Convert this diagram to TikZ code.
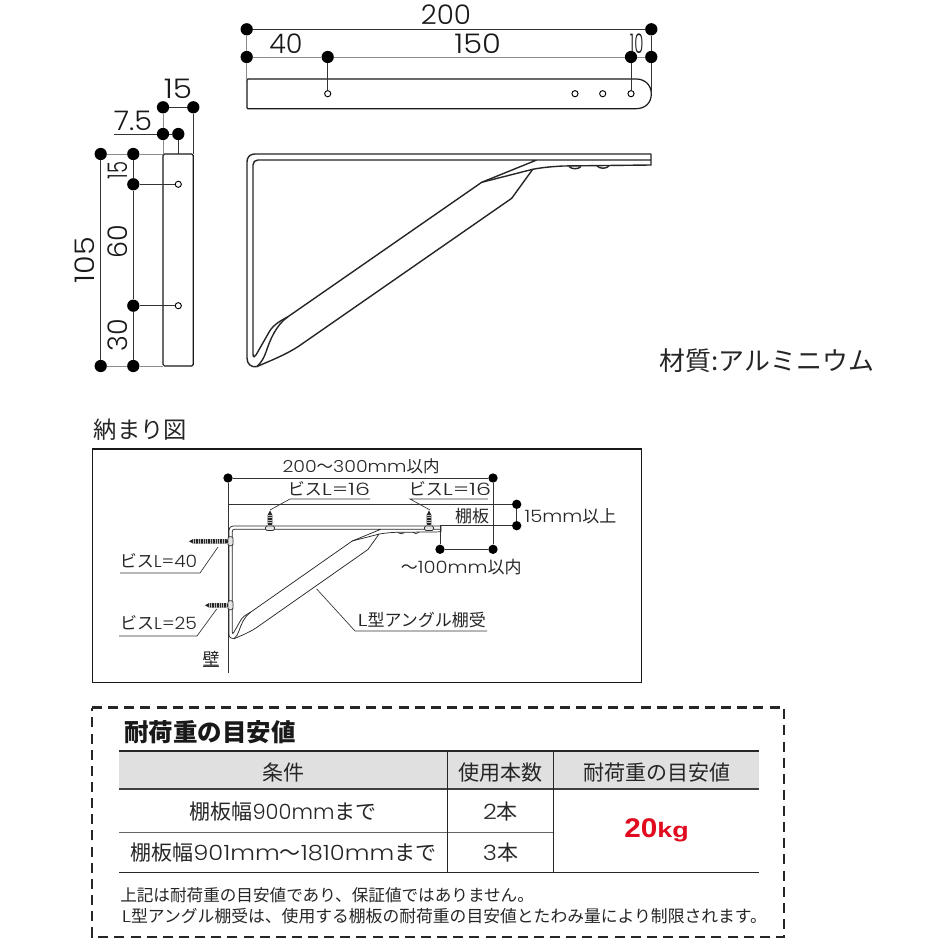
\documentclass[tikz,border=0pt]{standalone}
\usepackage{fontspec}
\newfontfamily\ja{Noto Sans CJK JP}
\newfontfamily\la{Poppins}[UprightFont={* Light}]
\newfontfamily\lb{Liberation Sans}
\newcommand\sz[1]{\fontsize{\fpeval{#1*0.75}}{\fpeval{#1*0.9}}\selectfont}
\newcommand\drawbracket{%
  \draw (651,154) -- (255,154) .. controls (250,154) and (247,157) .. (247,162) -- (247,358) .. controls (247,364) and (251,367.5) .. (256.7,366.7);
  \draw (651,160) -- (258,160) .. controls (255,160) and (253,162) .. (253,165) -- (253,354) .. controls (253,358) and (255,357) .. (256,355) -- (268,334) .. controls (272,326) and (278,322) .. (288,316.7) -- (481.7,182.3) -- (536.7,160);
  \draw (256.7,366.7) .. controls (272,360) and (285,355) .. (298,346.7) -- (511.7,198.3) -- (532.7,169.3);
  \draw (288,316.7) .. controls (276,325) and (270,340) .. (266,352) .. controls (264,358) and (261,363) .. (256.7,366.7);
  \draw (481.7,182.3) -- (532.7,169.3) .. controls (545,167) and (555,166.5) .. (563,166) -- (651,165) -- (651,154);
  \draw (569,166.5) .. controls (572,169.5) and (578,169.5) .. (581,166.5);
  \draw (597,166) .. controls (600,169) and (606,169) .. (609,166);
}
\newcommand\hscrew[2]{% tip x, y
  \fill[black!85] (#1,#2) -- (#1+4,#2-2.2) -- (226,#2-2.2) -- (228,#2-1.5) -- (228,#2+1.5) -- (226,#2+2.2) -- (#1+4,#2+2.2) -- cycle;
  \draw[line width=3.4pt,draw=black!25,dash pattern=on .45pt off 1.35pt] (#1+4,#2) -- (226,#2);
  \draw[line width=.6pt,draw=black!80,fill=black!10,rounded corners=1pt] (228,#2-4.5) rectangle (233,#2+4.5);
}
\newcommand\vscrew[1]{% x
  \fill[black!85] (#1,510.5) -- (#1-2.3,515) -- (#1-2.3,524) -- (#1-1.5,526) -- (#1+1.5,526) -- (#1+2.3,524) -- (#1+2.3,515) -- cycle;
  \draw[line width=3.4pt,draw=black!25,dash pattern=on .45pt off 1.35pt] (#1,515) -- (#1,525);
  \draw[line width=.6pt,draw=black!80,fill=black!10,rounded corners=1pt] (#1-4.5,526) rectangle (#1+4.5,530.5);
}
\tikzset{
  dot/.style={circle,fill=black,inner sep=0pt,minimum size=9.2pt},
  wdot/.style={circle,fill=black,inner sep=0pt,minimum size=7pt},
  hole/.style={circle,draw=black,fill=white,line width=.7pt,inner sep=0pt,minimum size=4.6pt},
  dim/.style={line width=.6pt,draw=black!80},
  dimg/.style={line width=.7pt,draw=black!45},
  body/.style={line width=.9pt,draw=black!90},
  num/.style={inner sep=0pt,font=\la\sz{27},text=black!90},
  lab/.style={inner sep=0pt,font=\ja\sz{17},text=black!85},
  lead/.style={line width=.5pt,draw=black!80},
  tab/.style={inner sep=0pt,font=\ja\sz{21},text=black!85},
  note/.style={inner sep=0pt,anchor=west,text=black!85},
}
\newcommand\lt[2][1.15]{\scalebox{#1}[1]{\la #2}}
\begin{document}
\begin{tikzpicture}[x=.75pt,y=-.75pt]
\useasboundingbox (0,0) rectangle (944,944);
\fill[white] (0,0) rectangle (944,944);

% ---------- top view
\draw[body] (248,79) -- (636,79) .. controls (645,79) and (651.3,85) .. (651.3,94) .. controls (651.3,103) and (645,108.7) .. (636,108.7) -- (248,108.7) .. controls (247.3,108.7) and (247,108.4) .. (247,107.7) -- (247,80) .. controls (247,79.3) and (247.3,79) .. (248,79) -- cycle;
\coordinate (pl) at (246.7,79);
\coordinate (pr) at (651.3,94);
\node[hole] (h1) at (327.7,93.7) {};
\node[hole] (h2) at (575,93.7) {};
\node[hole] (h3) at (602.7,93.7) {};
\node[hole] (h4) at (631,93.7) {};
\node[dot] (a1) at (246.7,29.3) {};
\node[dot] (a2) at (651.3,29.3) {};
\node[dot] (b1) at (246.7,57) {};
\node[dot] (b2) at (327.7,57) {};
\node[dot] (b3) at (631,57) {};
\node[dot] (b4) at (651.3,57) {};
\draw[dim] (a1) -- (a2);
\draw[dimg] (b1) -- (b2);
\draw[dimg] (b2) -- (b3);
\draw[dimg] (b3) -- (b4);
\draw[dimg] (a1) -- (b1);
\draw[dimg] (b1) -- (pl);
\draw[dim] (a2) -- (b4);
\draw[dim] (b4) -- (pr);
\draw[dim] (b2) -- (h1);
\draw[dim] (b3) -- (h4);
\node[num] (t200) at (446,15) {\scalebox{1.03}[1]{200}};
\node[num] (t40) at (286,44) {40};
\node[num] (t150) at (477.7,44) {\scalebox{1.13}[1]{150}};
\node[num] (t10) at (636.7,43.5) {\scalebox{.55}[1]{10}};

% ---------- side view
\draw[body,rounded corners=1.2pt] (163,154) rectangle (193.3,366);
\node[hole] (s1) at (178.3,184.3) {};
\node[hole] (s2) at (178.3,305.7) {};
\coordinate (sa) at (163,154);
\coordinate (sb) at (193.3,154);
\coordinate (sc) at (178.3,154);
\coordinate (sd) at (163,366);
\coordinate (se) at (114,134);
\node[dot] (c1) at (163,107.3) {};
\node[dot] (c2) at (193.3,107.3) {};
\node[dot] (c3) at (163,134) {};
\node[dot] (c4) at (178.3,134) {};
\node[dot] (d1) at (100.7,154) {};
\node[dot] (d2) at (133.3,154) {};
\node[dot] (d3) at (133.3,184.3) {};
\node[dot] (d4) at (133.3,305.7) {};
\node[dot] (d5) at (100.7,366) {};
\node[dot] (d6) at (133.3,366) {};
\draw[dim] (c1) -- (c2);
\draw[dimg] (c1) -- (c3);
\draw[dimg] (c3) -- (sa);
\draw[dim] (c2) -- (sb);
\draw[dim] (c3) -- (c4);
\draw[dim] (c4) -- (sc);
\draw[dim] (se) -- (c3);
\draw[dim] (d1) -- (d5);
\draw[dim] (d2) -- (d3);
\draw[dim] (d3) -- (d4);
\draw[dim] (d4) -- (d6);
\draw[dimg] (d1) -- (d2);
\draw[dimg] (d5) -- (d6);
\draw[dimg] (d2) -- (sa);
\draw[dimg] (d6) -- (sd);
\draw[dim] (d3) -- (s1);
\draw[dim] (d4) -- (s2);
\node[num] (t15) at (178,89) {\scalebox{1.15}[1]{15}};
\node[num] (t75) at (133,120.7) {\scalebox{1.06}[1]{7.5}};
\node[num,rotate=90] (r15) at (118,170.7) {\scalebox{.72}[1]{15}};
\node[num,rotate=90] (r60) at (118,242) {60};
\node[num,rotate=90] (r105) at (85,260) {\scalebox{1.12}[1]{105}};
\node[num,rotate=90] (r30) at (118,335) {30};

% ---------- bracket
\begin{scope}[line width=1.05pt,draw=black!85]
\drawbracket
\end{scope}
\node[inner sep=0pt,font=\ja\sz{25.9},text=black!85] (mat) at (767,361) {材質:アルミニウム};

% ---------- installation panel
\node[inner sep=0pt,font=\ja\sz{23.3},text=black!85] (ttl) at (140.5,430) {納まり図};
\draw[line width=1pt,draw=black!90] (92.7,449) rectangle (641.5,682.5);
\node[wdot] (w1) at (228,478) {};
\coordinate (w2) at (228,673);
\node[wdot] (w3) at (493,478) {};
\node[wdot] (w4) at (493,549.3) {};
\node[wdot] (w5) at (440,549.3) {};
\node[wdot] (w6) at (516.7,504.3) {};
\node[wdot] (w7) at (516.7,525.7) {};
\coordinate (w8) at (440,525.7);
\coordinate (w9) at (228,504.3);
\draw[lead] (w1) -- (w2);
\draw[lead] (w1) -- (w3);
\draw[lead] (w3) -- (w4);
\draw[lead] (w4) -- (w5);
\draw[lead] (w5) -- (w8);
\draw[lead] (w9) -- (w6);
\draw[lead] (w8) -- (w7);
\draw[lead] (w6) -- (w7);
\begin{scope}[shift={(229,526)},xscale=.525,yscale=.53,shift={(-247,-154)},line width=.55pt,draw=black!85]
\drawbracket
\end{scope}
% screws
\hscrew{189}{541.3}
\hscrew{205}{605.3}
\vscrew{270}
\vscrew{429}
% labels
\node[lab,font=\ja\sz{16.5}] (l200) at (361,466.7) {\lt{200}〜\lt{300mm}以内};
\node[lab] (l16a) at (329,489) {ビス\lt[1.4]{L=16}};
\node[lab] (l16b) at (450,489) {ビス\lt[1.4]{L=16}};
\node[lab] (lsh) at (472,515.7) {棚板};
\node[lab] (l15) at (570.5,516) {\lt{15mm}以上};
\node[lab] (l100) at (461.3,567) {〜\lt{100mm}以内};
\node[lab] (lL) at (421.7,620) {\lt[1.4]{L}型アングル棚受};
\node[lab] (l40) at (158.5,560.7) {ビス\lt[1.1]{L=40}};
\node[lab] (l25) at (158.5,623) {ビス\lt[1.1]{L=25}};
\node[lab] (lw) at (211,659) {壁};
\coordinate (u1a) at (270,510);
\coordinate (u1b) at (290,499);
\coordinate (u1c) at (370,499);
\coordinate (u2a) at (430,510);
\coordinate (u2b) at (410,499);
\coordinate (u2c) at (488,499);
\coordinate (u3a) at (316.7,589);
\coordinate (u3b) at (355,631);
\coordinate (u3c) at (487,631);
\coordinate (u4a) at (218,547);
\coordinate (u4b) at (200,573);
\coordinate (u4c) at (120,573);
\coordinate (u5a) at (216.7,609);
\coordinate (u5b) at (197,636);
\coordinate (u5c) at (119,636);
\coordinate (u6a) at (203,666.7);
\coordinate (u6b) at (219,666.7);
\draw[lead] (u1a) -- (u1b) -- (u1c);
\draw[lead] (u2a) -- (u2b) -- (u2c);
\draw[lead] (u3a) -- (u3b) -- (u3c);
\draw[lead] (u4a) -- (u4b) -- (u4c);
\draw[lead] (u5a) -- (u5b) -- (u5c);
\draw[lead] (u6a) -- (u6b);

% ---------- load table
\draw[line width=1.9pt,draw=black!85,dash pattern=on 7.5pt off 4.6pt] (92,707.5) -- (784,707.5) -- (784,937) -- (92,937) -- cycle;
\node[inner sep=0pt,font=\ja\bfseries\sz{24.5},text=black!90] (tt) at (210,731.7) {耐荷重の目安値};
\fill[black!12] (119.3,751) rectangle (759.3,789.3);
\draw[line width=1pt,draw=black!85] (119.3,751) -- (759.3,751);
\draw[line width=1.6pt,draw=black!75] (119.3,789.3) -- (759.3,789.3);
\draw[line width=.6pt,draw=black!60] (119.3,832.3) -- (553.7,832.3);
\draw[line width=1pt,draw=black!85] (119.3,872.7) -- (759.3,872.7);
\draw[line width=.8pt,draw=black!85] (447.3,751) -- (447.3,872.7);
\draw[line width=.8pt,draw=black!85] (553.7,751) -- (553.7,872.7);
\node[tab] (h1t) at (283,772.7) {条件};
\node[tab] (h2t) at (500.5,772.7) {使用本数};
\node[tab] (h3t) at (656.7,772.7) {耐荷重の目安値};
\node[tab] (r1t) at (283,811.7) {棚板幅\lt[1]{900mm}まで};
\node[tab] (r2t) at (283.3,852.7) {棚板幅\lt[1.15]{901mm}〜\lt[1.15]{1810mm}まで};
\node[tab] (r1n) at (500.5,811.7) {\lt{2}本};
\node[tab] (r2n) at (500.5,852.7) {\lt{3}本};
\node[inner sep=0pt,text={rgb,255:red,225;green,10;blue,30},font=\lb\bfseries] (kg) at (656.5,830) {\sz{27}\scalebox{1.1}[1]{20}\sz{21}\scalebox{1.28}[1]{kg}};
\node[note,font=\ja\sz{16.6}] (n1) at (120,895) {上記は耐荷重の目安値であり、保証値ではありません。};
\node[note,font=\ja\sz{16.8}] (n2) at (121.7,916) {\lt[1.3]{L}型アングル棚受は、使用する棚板の耐荷重の目安値とたわみ量により制限されます。};
\end{tikzpicture}
\end{document}
